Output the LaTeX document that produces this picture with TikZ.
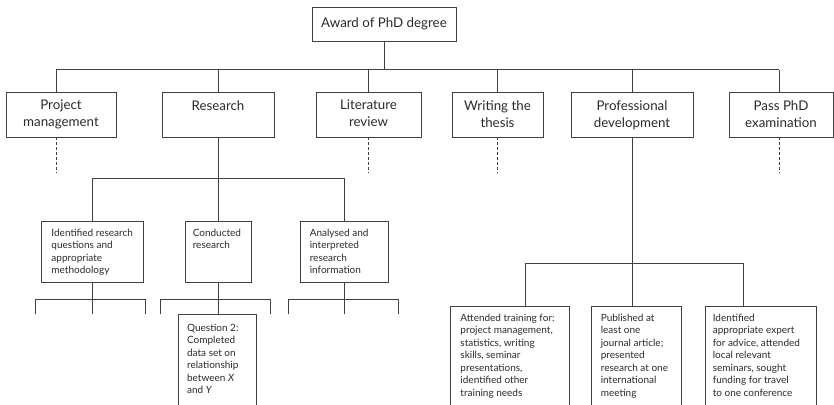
\documentclass[tikz,border=0pt]{standalone}
\usepackage{fontspec}
\setmainfont{Lato}
\usetikzlibrary{fit,calc}
\definecolor{ink}{HTML}{2A2A2A}
\definecolor{rule}{HTML}{404040}
\begin{document}
\begin{tikzpicture}[x=0.75pt,y=-0.75pt,
  box/.style={draw=rule, line width=0.7pt, inner sep=0pt},
  ln/.style={draw=rule, line width=0.7pt},
  dsh/.style={draw=rule, line width=0.6pt, dash pattern=on 2.2pt off 1.5pt},
  big/.style={inner sep=0pt, align=center, text=ink, font=\fontsize{10}{12.75}\selectfont, anchor=north},
  small/.style={inner sep=0pt, align=left, text=ink, font=\fontsize{7.5}{9.4}\selectfont, anchor=north west}]
\useasboundingbox (0,0) rectangle (834,404);
\clip (0,0) rectangle (834,404);

% top
\node[box, fit={(312,7)(456,41)}] (top) {};
\node[inner sep=0pt, text=ink, font=\fontsize{10}{12}\selectfont] (topT) at (top.center) {Award of PhD degree};

% level 2
\node[box, fit={(6,92)(116,137)}] (pm) {};
\node[box, fit={(162,92)(274,137)}] (res) {};
\node[box, fit={(316,92)(421,137)}] (lit) {};
\node[box, fit={(452,92)(543,137)}] (wri) {};
\node[box, fit={(571,92)(693,137)}] (pro) {};
\node[box, fit={(729,92)(833,137)}] (pas) {};
\node[big] (pmT) at ([yshift=-6.3pt]pm.north) {Project\\management};
\node[big] (resT) at ([yshift=-6.3pt]res.north) {Research};
\node[big] (litT) at ([yshift=-6.3pt]lit.north) {Literature\\review};
\node[big] (wriT) at ([yshift=-6.3pt]wri.north) {Writing the\\thesis};
\node[big] (proT) at ([yshift=-6.3pt]pro.north) {Professional\\development};
\node[big] (pasT) at ([yshift=-6.3pt]pas.north) {Pass PhD\\examination};

% level 3 (research)
\node[box, fit={(41,221)(143,282)}] (idr) {};
\node[box, fit={(185,221)(251,282)}] (con) {};
\node[box, fit={(300,221)(388,282)}] (ana) {};
\node[box, fit={(178,314)(256,430)}] (q2) {};
\node[small] (idrT) at ([xshift=8pt,yshift=-6pt]idr.north west) {Identified research\\questions and\\appropriate\\methodology};
\node[small] (conT) at ([xshift=6pt,yshift=-6pt]con.north west) {Conducted\\research};
\node[small] (anaT) at ([xshift=7.5pt,yshift=-6pt]ana.north west) {Analysed and\\interpreted\\research\\information};
\node[small] (q2T) at ([xshift=7pt,yshift=-7.5pt]q2.north west) {Question 2:\\Completed\\data set on\\relationship\\between \textit{X}\\and \textit{Y}};

% level 3 (professional development)
\node[box, fit={(450,306)(569,430)}] (att) {};
\node[box, fit={(591,306)(681,430)}] (pub) {};
\node[box, fit={(705,306)(816,430)}] (ide) {};
\node[small] (attT) at ([xshift=8pt,yshift=-6pt]att.north west) {Attended training for:\\project management,\\statistics, writing\\skills, seminar\\presentations,\\identified other\\training needs};
\node[small] (pubT) at ([xshift=7.5pt,yshift=-6pt]pub.north west) {Published at\\least one\\journal article;\\presented\\research at one\\international\\meeting};
\node[small] (ideT) at ([xshift=6pt,yshift=-6pt]ide.north west) {Identified\\appropriate expert\\for advice, attended\\local relevant\\seminars, sought\\funding for travel\\to one conference};

% main bus
\coordinate (pmN) at ($(pm.north)+(-5,0)$);
\coordinate (pasN) at ($(pas.north)+(-2,0)$);
\coordinate (busL) at ($(pmN)+(0,-22)$);
\coordinate (busR) at ($(pasN)+(0,-22)$);
\draw[ln] (top.south) -- (top.south |- busL);
\draw[ln] (busL) -- (busR);
\draw[ln] (pmN) -- (busL);
\draw[ln] (pasN) -- (busR);
\draw[ln] (res.north) -- (res.north |- busL);
\draw[ln] (lit.north) -- (lit.north |- busL);
\draw[ln] (wri.north) -- (wri.north |- busL);
\draw[ln] (pro.north) -- (pro.north |- busL);

% dashed continuations
\draw[dsh] (pmN |- pm.south) -- ++(0,36);
\draw[dsh] (lit.south) -- ++(0,36);
\draw[dsh] (wri.south) -- ++(0,36);
\draw[dsh] (pasN |- pas.south) -- ++(0,36);

% research bus
\coordinate (rbL) at ($(idr.north)+(0,-42)$);
\coordinate (rbR) at ($(ana.north)+(0,-42)$);
\draw[ln] (res.south) -- (con.north);
\draw[ln] (idr.north) -- (rbL) -- (rbR) -- (ana.north);

% small buses under level 3 boxes
\coordinate (i1) at ($(idr.south)+(-57,17)$);
\coordinate (i2) at ($(idr.south)+(53,17)$);
\draw[ln] (idr.south) -- ++(0,32);
\draw[ln] ($(i1)+(0,15)$) -- (i1) -- (i2) -- ++(0,15);
\coordinate (c1) at ($(con.south)+(-58,17)$);
\coordinate (c2) at ($(con.south)+(52,17)$);
\draw[ln] (con.south) -- (con.south |- q2.north);
\draw[ln] ($(c1)+(0,15)$) -- (c1) -- (c2) -- ++(0,15);
\coordinate (a1) at ($(ana.south)+(-56,17)$);
\coordinate (a2) at ($(ana.south)+(54,17)$);
\draw[ln] (ana.south) -- ++(0,32);
\draw[ln] ($(a1)+(0,15)$) -- (a1) -- (a2) -- ++(0,15);

% professional development bus
\coordinate (attN) at ($(att.north west)+(76,0)$);
\coordinate (ideN) at ($(ide.north west)+(39,0)$);
\coordinate (pbL) at ($(attN)+(0,-42)$);
\coordinate (pbR) at ($(ideN)+(0,-42)$);
\draw[ln] (pro.south) -- (pro.south |- pub.north);
\draw[ln] (attN) -- (pbL) -- (pbR) -- (ideN);
\end{tikzpicture}
\end{document}
